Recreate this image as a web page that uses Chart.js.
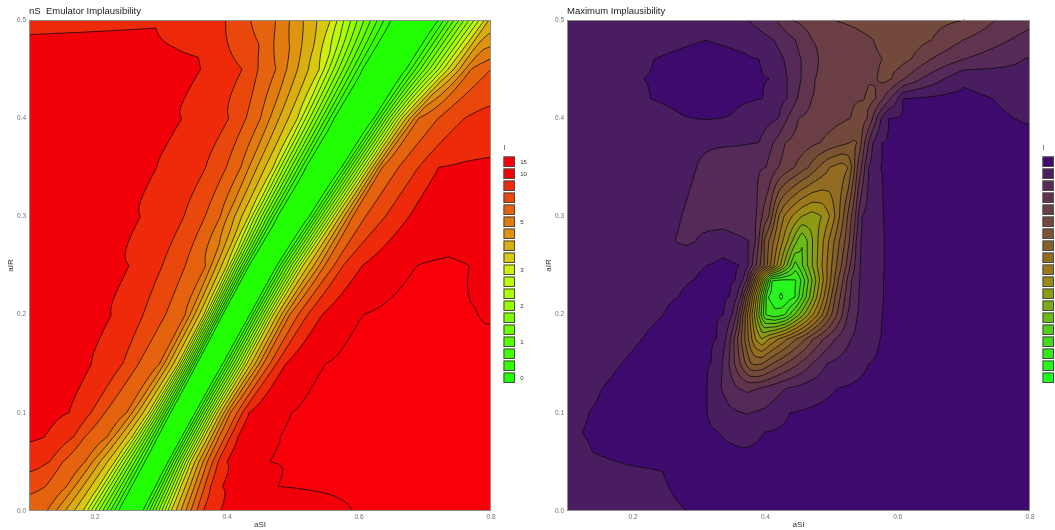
<!DOCTYPE html>
<html>
<head>
<meta charset="utf-8">
<script src="https://cdn.jsdelivr.net/npm/chart.js@4.4.1/dist/chart.umd.min.js"></script>
<style>
  html, body { margin: 0; padding: 0; background: #fff; }
  #wrap { position: relative; width: 1055px; height: 530px; overflow: hidden; }
  canvas { position: absolute; top: 0; }
  #cL { left: 0; }
  #cR { left: 538px; }
</style>
</head>
<body>
<div id="wrap">
  <canvas id="cL" width="540" height="530"></canvas>
  <canvas id="cR" width="517" height="530"></canvas>
</div>
<script>
// ---------- axes ----------
const xTickValues = [0.2, 0.4, 0.6, 0.8];
const yTickValues = [0, 0.1, 0.2, 0.3, 0.4, 0.5];
const legendLabels = ['15', '10', '', '', '', '5', '', '', '', '3', '', '', '2', '', '', '1', '', '', '0'];

// legend colours, top box -> bottom box (band 18 ... band 0)
const nsColors = ['#f7000a', '#f2000a', '#ee2a0a', '#e9470c', '#e5620e', '#e27b0f', '#de9410', '#daad10',
  '#d9c810', '#d0ee10', '#bdfb0c', '#a8ff08', '#94ff06', '#80ff04', '#6cff04', '#58ff04', '#44ff04', '#32ff04', '#22ff04'];
const maxColors = ['#3f0a6e', '#4a1c60', '#552a58', '#60344e', '#6a3e44', '#73493b', '#7c5432', '#86602a', '#916c22',
  '#9c781a', '#9a8a16', '#8c9a16', '#7caa18', '#6abb18', '#58cb1a', '#46da1c', '#36e81c', '#28f41e', '#1cff1e'];

// ---------- nS emulator implausibility: contour crossings read along rows (level index) ----------
const nsRowY = [0, 0.025, 0.05, 0.075, 0.1, 0.15, 0.2, 0.25, 0.3, 0.35, 0.4, 0.45, 0.5];
const nsCenter = [0.2525, 0.2728, 0.293, 0.313, 0.333, 0.374, 0.414, 0.4545, 0.5005, 0.5465, 0.5925, 0.6385, 0.6845];
const nsKnotX = [
  [0.1, 0.127, 0.182, 0.235, 0.2525, 0.273, 0.315, 0.345, 0.354, 0.364, 0.39, 0.59, 0.8],
  [0.1, 0.125, 0.157, 0.206, 0.255, 0.2728, 0.292, 0.33, 0.3575, 0.366, 0.375, 0.393, 0.477, 0.8],
  [0.1, 0.131, 0.151, 0.185, 0.23, 0.275, 0.293, 0.311, 0.345, 0.37, 0.378, 0.386, 0.40, 0.465, 0.8],
  [0.1, 0.123, 0.167, 0.184, 0.218, 0.256, 0.2945, 0.313, 0.3315, 0.365, 0.3875, 0.3965, 0.4045, 0.416, 0.48, 0.8],
  [0.1, 0.161, 0.194, 0.215, 0.248, 0.281, 0.314, 0.333, 0.352, 0.385, 0.405, 0.415, 0.423, 0.433, 0.497, 0.8],
  [0.1, 0.195, 0.242, 0.266, 0.298, 0.326, 0.354, 0.374, 0.394, 0.43, 0.455, 0.465, 0.475, 0.489, 0.549, 0.8],
  [0.1, 0.225, 0.273, 0.307, 0.337, 0.365, 0.393, 0.414, 0.435, 0.47, 0.495, 0.508, 0.522, 0.544, 0.606, 0.7, 0.78, 0.8],
  [0.1, 0.252, 0.302, 0.337, 0.368, 0.40, 0.433, 0.4545, 0.476, 0.515, 0.548, 0.562, 0.576, 0.605, 0.688, 0.728, 0.767, 0.8],
  [0.1, 0.269, 0.335, 0.367, 0.39, 0.433, 0.476, 0.5005, 0.525, 0.565, 0.59, 0.61, 0.64, 0.676, 0.73, 0.8],
  [0.1, 0.294, 0.368, 0.399, 0.421, 0.47, 0.519, 0.5465, 0.574, 0.615, 0.635, 0.66, 0.69, 0.72, 0.8],
  [0.1, 0.332, 0.403, 0.429, 0.451, 0.507, 0.562, 0.5925, 0.623, 0.665, 0.69, 0.72, 0.76, 0.8],
  [0.1, 0.3, 0.345, 0.36, 0.423, 0.447, 0.474, 0.54, 0.605, 0.6385, 0.672, 0.735, 0.77, 0.8],
  [0.1, 0.3, 0.398, 0.436, 0.474, 0.557, 0.648, 0.6845, 0.721, 0.79, 0.8],
];
const nsKnotV = [
  [14.3, 14, 10, 1, 0.4, 1, 10, 14, 15, 16, 17, 18, 18.4],
  [15.5, 15, 14, 10, 1, 0.4, 1, 10, 14, 15, 16, 17, 18, 18.45],
  [16.5, 16, 15, 14, 10, 1, 0.4, 1, 10, 14, 15, 16, 17, 18, 18.5],
  [17.15, 17, 16, 15, 14, 10, 1, 0.4, 1, 10, 14, 15, 16, 17, 18, 18.5],
  [17.3, 17, 16, 15, 14, 10, 1, 0.4, 1, 10, 14, 15, 16, 17, 18, 18.5],
  [17.4, 17, 16, 15, 14, 10, 1, 0.4, 1, 10, 14, 15, 16, 17, 18, 18.5],
  [17.45, 17, 16, 15, 14, 10, 1, 0.4, 1, 10, 14, 15, 16, 17, 18, 18.25, 18, 17.9],
  [17.5, 17, 16, 15, 14, 10, 1, 0.4, 1, 10, 14, 15, 16, 17, 18, 18.1, 18, 17.8],
  [17.5, 17, 16, 15, 14, 10, 1, 0.4, 1, 10, 14, 15, 16, 17, 17.6, 17.5],
  [17.5, 17, 16, 15, 14, 10, 1, 0.4, 1, 10, 14, 15, 16, 17, 17.15],
  [17.5, 17, 16, 15, 14, 10, 1, 0.4, 1, 10, 14, 15, 16, 16.5],
  [17.45, 17.4, 17.3, 17, 16, 15, 14, 10, 1, 0.4, 1, 10, 14, 15],
  [16.8, 16.92, 16, 15, 14, 10, 1, 0.4, 1, 10, 11.5],
];

// ---------- maximum implausibility: contour crossings read along rows (level index) ----------
const maxRowY = [0, 0.04, 0.06, 0.08, 0.1, 0.125, 0.15, 0.175, 0.2, 0.218, 0.235, 0.25, 0.275, 0.3, 0.35, 0.375,
  0.4, 0.42, 0.44, 0.46, 0.48, 0.5];
const maxKnotX = [
  [0.1, 0.281, 0.35, 0.8],
  [0.1, 0.245, 0.3, 0.8],
  [0.1, 0.139, 0.2, 0.3, 0.37, 0.45, 0.8],
  [0.1, 0.123, 0.2, 0.3, 0.33, 0.365, 0.398, 0.45, 0.8],
  [0.1, 0.133, 0.2, 0.28, 0.312, 0.345, 0.372, 0.4, 0.437, 0.5, 0.8],
  [0.1, 0.153, 0.22, 0.28, 0.312, 0.333, 0.36, 0.372, 0.39, 0.431, 0.508, 0.6, 0.8],
  [0.1, 0.182, 0.25, 0.318, 0.335, 0.345, 0.378, 0.386, 0.395, 0.41, 0.43, 0.45, 0.47, 0.493, 0.556, 0.62, 0.8],
  [0.1, 0.15, 0.213, 0.27, 0.326, 0.34, 0.347, 0.385, 0.395, 0.405, 0.46, 0.472, 0.487, 0.505, 0.529, 0.573, 0.65, 0.8],
  [0.1, 0.2, 0.246, 0.29, 0.337, 0.35, 0.356, 0.4, 0.415, 0.43, 0.5, 0.508, 0.516, 0.524, 0.539, 0.576, 0.65, 0.8],
  [0.1, 0.2, 0.269, 0.31, 0.346, 0.357, 0.363, 0.404, 0.421, 0.4236, 0.426, 0.445, 0.505, 0.513, 0.52, 0.528, 0.541, 0.578, 0.65, 0.8],
  [0.1, 0.2, 0.292, 0.33, 0.355, 0.366, 0.372, 0.41, 0.43, 0.448, 0.51, 0.517, 0.523, 0.53, 0.542, 0.578, 0.65, 0.8],
  [0.1, 0.25, 0.312, 0.337, 0.362, 0.374, 0.38, 0.386, 0.392, 0.398, 0.445, 0.515, 0.522, 0.528, 0.535, 0.543, 0.579, 0.65, 0.8],
  [0.1, 0.2, 0.263, 0.28, 0.295, 0.335, 0.375, 0.385, 0.39, 0.395, 0.398, 0.455, 0.52, 0.527, 0.533, 0.537, 0.544, 0.579, 0.65, 0.8],
  [0.1, 0.24, 0.273, 0.33, 0.387, 0.395, 0.405, 0.41, 0.415, 0.42, 0.428, 0.44, 0.455, 0.47, 0.485, 0.497, 0.505, 0.512, 0.518, 0.524, 0.53, 0.536, 0.54, 0.546, 0.578, 0.65, 0.8],
  [0.1, 0.25, 0.296, 0.33, 0.401, 0.42, 0.444, 0.465, 0.48, 0.497, 0.515, 0.525, 0.53, 0.535, 0.539, 0.545, 0.55, 0.556, 0.574, 0.65, 0.8],
  [0.1, 0.25, 0.3, 0.36, 0.39, 0.412, 0.43, 0.483, 0.527, 0.533, 0.539, 0.545, 0.55, 0.556, 0.562, 0.576, 0.65, 0.8],
  [0.1, 0.2, 0.275, 0.311, 0.347, 0.4, 0.42, 0.433, 0.45, 0.529, 0.54, 0.554, 0.562, 0.568, 0.575, 0.586, 0.7, 0.776, 0.8],
  [0.1, 0.2, 0.226, 0.311, 0.396, 0.415, 0.433, 0.448, 0.47, 0.55, 0.558, 0.567, 0.578, 0.589, 0.6, 0.608, 0.68, 0.744, 0.8],
  [0.1, 0.2, 0.216, 0.311, 0.406, 0.42, 0.433, 0.454, 0.475, 0.569, 0.58, 0.591, 0.61, 0.635, 0.67, 0.7, 0.8],
  [0.1, 0.2, 0.231, 0.311, 0.391, 0.41, 0.428, 0.454, 0.48, 0.577, 0.6, 0.62, 0.65, 0.7, 0.79, 0.8],
  [0.1, 0.25, 0.31, 0.37, 0.412, 0.445, 0.47, 0.563, 0.61, 0.652, 0.7, 0.77, 0.8],
  [0.1, 0.3, 0.374, 0.416, 0.441, 0.502, 0.6, 0.702, 0.748, 0.8],
];
const maxKnotV = [
  [17.5, 18, 18.3, 18.4],
  [17.6, 18, 18.3, 18.4],
  [17.8, 18, 18.3, 18.3, 18.1, 18.3, 18.4],
  [17.85, 18, 18.3, 18.2, 18, 17.6, 18, 18.3, 18.4],
  [17.8, 18, 18.3, 18.3, 18, 17.2, 16.95, 17.2, 18, 18.3, 18.4],
  [17.65, 18, 18.3, 18.3, 18, 17, 16, 15.8, 16, 17, 18, 18.4, 18.4],
  [17.6, 18, 18.3, 18, 17, 16, 12, 11.8, 12, 13, 14, 15, 16, 17, 18, 18.4, 18.4],
  [17.5, 17.7, 18, 18.3, 18, 17, 16, 9, 8, 9, 13, 14, 15, 16, 17, 18, 18.4, 18.4],
  [17.5, 17.8, 18, 18.3, 18, 17, 16, 3, 2.3, 3, 13, 14, 15, 16, 17, 18, 18.4, 18.4],
  [17.5, 17.8, 18, 18.3, 18, 17, 16, 2, 1, 0.7, 1, 2, 13, 14, 15, 16, 17, 18, 18.4, 18.4],
  [17.5, 17.7, 18, 18.3, 18, 17, 16, 2, 1.85, 2, 13, 14, 15, 16, 17, 18, 18.4, 18.4],
  [17.5, 17.7, 18, 18.2, 18, 17, 16, 15, 14, 13, 3.5, 13, 14, 15, 16, 17, 18, 18.4, 18.4],
  [17.4, 17.5, 17, 16.8, 17, 17.6, 17, 16, 15, 14, 13, 5, 13, 14, 15, 16, 17, 18, 18.4, 18.4],
  [17.4, 17.5, 17, 16.4, 16, 15, 14, 13, 12, 11, 10, 9, 8, 7.5, 8, 9, 10, 11, 12, 13, 14, 15, 16, 17, 18, 18.4, 18.4],
  [17.4, 17.5, 17, 16.5, 16, 15, 14, 13, 12, 11, 10.5, 11, 12, 13, 14, 15, 16, 17, 18, 18.4, 18.4],
  [17.4, 17.4, 17.15, 17.1, 17, 16, 15, 14, 13, 12.9, 13, 14, 15, 16, 17, 18, 18.4, 18.4],
  [17.4, 17.6, 17.97, 18.05, 17.97, 17.4, 17, 16, 15, 14, 13.3, 14, 15, 16, 17, 18, 18.4, 18, 17.85],
  [17.4, 17.7, 18, 18.3, 18, 17.5, 17, 16, 15, 14, 13.7, 14, 15, 16, 17, 18, 18.3, 18, 17.6],
  [17.4, 17.75, 18, 18.35, 18, 17.5, 17, 16, 15, 14, 13.7, 14, 15, 16, 17, 17.85, 17.3],
  [17.4, 17.7, 18, 18.3, 18, 17.6, 17, 16, 15, 14, 13.5, 14, 15, 16, 17, 17.05],
  [17.4, 17.8, 17.99, 17.8, 17, 16, 15, 14, 13.3, 14, 15, 16, 16.4],
  [17.4, 17.6, 17, 16, 15, 14, 13.4, 14, 15, 15.7],
];

const FONT = '"Liberation Sans", Arial, Helvetica, sans-serif';

// ---------- field lookups ----------
function rowProfile(xs, vs, x) {
  if (x <= xs[0]) return vs[0];
  for (let i = 1; i < xs.length; i++) {
    if (x <= xs[i]) return vs[i - 1] + (x - xs[i - 1]) / (xs[i] - xs[i - 1]) * (vs[i] - vs[i - 1]);
  }
  return vs[vs.length - 1];
}

function findCell(arr, v) {
  let i = 0;
  while (i < arr.length - 2 && v > arr[i + 1]) i++;
  const t = Math.max(0, Math.min(1, (v - arr[i]) / (arr[i + 1] - arr[i])));
  return [i, t];
}

// nS rows are blended along the green valley so the diagonal band stays continuous
function nsField(x, y) {
  const [r, t] = findCell(nsRowY, y);
  const c = nsCenter[r] + t * (nsCenter[r + 1] - nsCenter[r]);
  const a = rowProfile(nsKnotX[r], nsKnotV[r], x - c + nsCenter[r]);
  const b = rowProfile(nsKnotX[r + 1], nsKnotV[r + 1], x - c + nsCenter[r + 1]);
  return a + t * (b - a);
}

function maxField(x, y) {
  const [r, t] = findCell(maxRowY, y);
  const a = rowProfile(maxKnotX[r], maxKnotV[r], x);
  const b = rowProfile(maxKnotX[r + 1], maxKnotV[r + 1], x);
  return a + t * (b - a);
}

// ---------- drawing helpers ----------
function hexRgb(h) {
  const n = parseInt(h.slice(1), 16);
  return [n >> 16, (n >> 8) & 255, n & 255];
}

function band(v) {
  return Math.max(0, Math.min(18, Math.floor(v)));
}

function marchLevel(g, W, H, lev, L, T, ctx) {
  const n = W + 1;
  for (let j = 0; j < H; j++) {
    for (let i = 0; i < W; i++) {
      const a = g[j * n + i], b = g[j * n + i + 1], c = g[(j + 1) * n + i + 1], d = g[(j + 1) * n + i];
      const ia = a >= lev, ib = b >= lev, ic = c >= lev, id = d >= lev;
      if (ia === ib && ib === ic && ic === id) continue;
      const p = [];
      if (ia !== ib) p.push([L + i + (lev - a) / (b - a), T + j]);
      if (ib !== ic) p.push([L + i + 1, T + j + (lev - b) / (c - b)]);
      if (ic !== id) p.push([L + i + (lev - d) / (c - d), T + j + 1]);
      if (id !== ia) p.push([L + i, T + j + (lev - a) / (d - a)]);
      if (p.length === 2) {
        ctx.moveTo(p[0][0], p[0][1]); ctx.lineTo(p[1][0], p[1][1]);
      } else if (p.length === 4) {
        const m = (a + b + c + d) / 4;
        const pairs = (m >= lev) === ia ? [[0, 1], [2, 3]] : [[0, 3], [1, 2]];
        pairs.forEach(([s, e]) => { ctx.moveTo(p[s][0], p[s][1]); ctx.lineTo(p[e][0], p[e][1]); });
      }
    }
  }
}

function contourLayer(field, colors, title) {
  const rgb = colors.map(hexRgb);
  return {
    id: 'contourLayer',
    beforeDatasetsDraw(chart) {
      const { ctx, chartArea: a, scales } = chart;
      const sx = scales.x, sy = scales.y;
      const L = Math.round(a.left), T = Math.round(a.top);
      const W = Math.round(a.right) - L, H = Math.round(a.bottom) - T;

      // filled bands, one value per pixel centre
      const img = ctx.createImageData(W, H);
      for (let j = 0; j < H; j++) {
        const yv = sy.getValueForPixel(T + j + 0.5);
        for (let i = 0; i < W; i++) {
          const c = rgb[18 - band(field(sx.getValueForPixel(L + i + 0.5), yv))];
          const k = (j * W + i) * 4;
          img.data[k] = c[0]; img.data[k + 1] = c[1]; img.data[k + 2] = c[2]; img.data[k + 3] = 255;
        }
      }
      ctx.putImageData(img, L, T);

      // contour lines from values at pixel corners
      const g = new Float32Array((W + 1) * (H + 1));
      const cx = [];
      for (let i = 0; i <= W; i++) cx.push(sx.getValueForPixel(L + i));
      for (let j = 0; j <= H; j++) {
        const yv = sy.getValueForPixel(T + j);
        for (let i = 0; i <= W; i++) g[j * (W + 1) + i] = field(cx[i], yv);
      }
      ctx.save();
      ctx.beginPath();
      for (let lev = 1; lev <= 18; lev++) marchLevel(g, W, H, lev, L, T, ctx);
      ctx.strokeStyle = 'rgba(10,10,10,0.9)';
      ctx.lineWidth = 0.85;
      ctx.stroke();
      ctx.strokeStyle = '#8c8c8c';
      ctx.lineWidth = 1;
      ctx.strokeRect(L + 0.5, T + 0.5, W - 1, H - 1);
      ctx.restore();
    },
    afterDraw(chart) {
      const { ctx, chartArea: a } = chart;
      ctx.save();
      ctx.fillStyle = '#222';
      ctx.font = '9.5px ' + FONT;
      ctx.textBaseline = 'middle';
      ctx.fillText(title, a.left, 11);

      // colour key
      const lx = a.right + 12.5;
      ctx.font = '6.5px ' + FONT;
      ctx.fillStyle = '#333';
      ctx.fillText('I', lx, 148);
      colors.forEach((col, i) => {
        const y0 = 156.5 + 12 * i;
        ctx.fillStyle = col;
        ctx.fillRect(lx, y0, 11.5, 10.5);
        ctx.strokeStyle = '#4a4a4a';
        ctx.lineWidth = 1;
        ctx.strokeRect(lx + 0.5, y0 + 0.5, 10.5, 9.5);
        if (legendLabels[i]) {
          ctx.fillStyle = '#333';
          ctx.font = '6px ' + FONT;
          ctx.fillText(legendLabels[i], lx + 16.7, y0 + 5.5);
        }
      });
      ctx.restore();
    },
  };
}

function chartOptions(padRight) {
  const tickFont = { size: 6.5, family: FONT };
  const titleFont = { size: 8, family: FONT };
  return {
    responsive: false,
    animation: false,
    devicePixelRatio: 1,
    layout: { padding: { top: 20, right: padRight, left: 0, bottom: 0 } },
    plugins: { legend: { display: false }, tooltip: { enabled: false } },
    scales: {
      x: {
        type: 'linear', min: 0.1, max: 0.8,
        grid: { display: false, drawTicks: false }, border: { display: false },
        afterBuildTicks: (s) => { s.ticks = xTickValues.map((v) => ({ value: v })); },
        afterFit: (s) => { s.height = 19; },
        ticks: { autoSkip: false, maxRotation: 0, padding: 2, color: '#707070', font: tickFont,
          callback: (v) => Number(v).toFixed(1) },
        title: { display: true, text: 'aSI', color: '#333', font: titleFont, padding: 0 },
      },
      y: {
        type: 'linear', min: 0, max: 0.5,
        grid: { display: false, drawTicks: false }, border: { display: false },
        afterBuildTicks: (s) => { s.ticks = yTickValues.map((v) => ({ value: v })); },
        afterFit: (s) => { s.width = 29; },
        ticks: { autoSkip: false, padding: 3, color: '#707070', font: tickFont,
          callback: (v) => Number(v).toFixed(1) },
        title: { display: true, text: 'aIR', color: '#333', font: titleFont, padding: { top: 6, bottom: 0 } },
      },
    },
  };
}

new Chart(document.getElementById('cL'), {
  type: 'scatter',
  data: { datasets: [{ data: [], pointRadius: 0 }] },
  options: chartOptions(49),
  plugins: [contourLayer(nsField, nsColors, 'nS  Emulator Implausibility')],
});

new Chart(document.getElementById('cR'), {
  type: 'scatter',
  data: { datasets: [{ data: [], pointRadius: 0 }] },
  options: chartOptions(25),
  plugins: [contourLayer(maxField, maxColors, 'Maximum Implausibility')],
});
</script>
</body>
</html>
